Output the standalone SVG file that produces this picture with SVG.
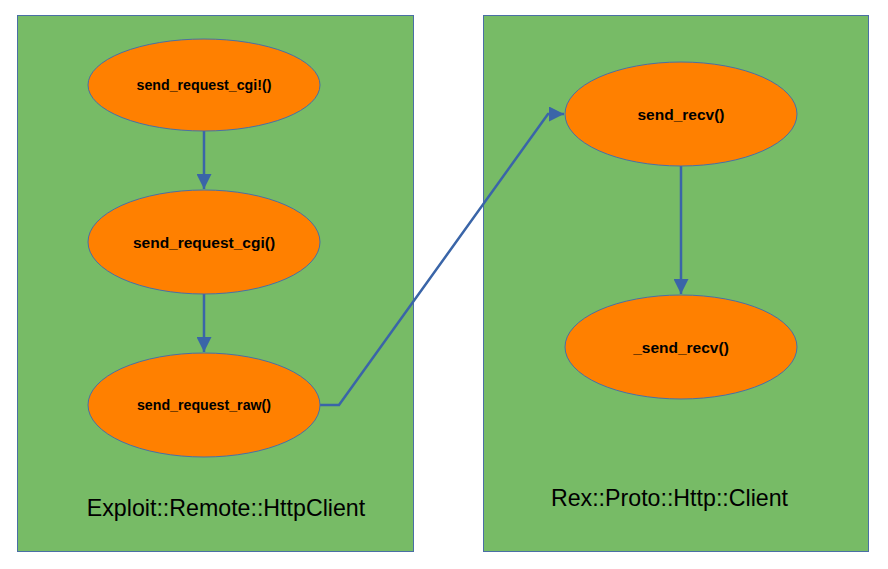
<svg xmlns="http://www.w3.org/2000/svg" width="888" height="569" viewBox="0 0 888 569">
<style>
.box{fill:#77bb66;stroke:#4a6fa5;stroke-width:1}
.node{fill:#ff8000;stroke:#4a6fa5;stroke-width:1}
.lbl{font-family:"Liberation Sans",Arial,sans-serif;font-weight:bold;fill:#000;text-anchor:middle;dominant-baseline:central}
.title{font-family:"Liberation Sans",Arial,sans-serif;font-size:23.2px;fill:#000;text-anchor:middle}
.edge{fill:none;stroke:#3a65a8;stroke-width:2.5}
</style>
<defs>
<marker id="arr" viewBox="0 0 10 10" refX="10" refY="5" markerWidth="6" markerHeight="6" markerUnits="strokeWidth" orient="auto">
<path d="M0,0 L10,5 L0,10 z" fill="#3a65a8"/>
</marker>
</defs>
<rect width="888" height="569" fill="#fff"/>
<g id="container-left">
<rect class="box" x="17.5" y="15.5" width="396" height="536"/>
<text class="title" x="226" y="516">Exploit::Remote::HttpClient</text>
</g>
<g id="container-right">
<rect class="box" x="483.5" y="15.5" width="385" height="536"/>
<text class="title" x="669.5" y="506">Rex::Proto::Http::Client</text>
</g>
<g id="connectors">
<path class="edge" d="M204,131 L204,189" marker-end="url(#arr)"/>
<path class="edge" d="M204,294 L204,352" marker-end="url(#arr)"/>
<path class="edge" d="M681,166 L681,294" marker-end="url(#arr)"/>
<path class="edge" d="M320,405 L339,405 L548,114 L564,114" marker-end="url(#arr)"/>
</g>
<g id="n1">
<ellipse class="node" cx="204" cy="85" rx="116" ry="46"/>
<text class="lbl" x="204" y="85" font-size="14.2">send_request_cgi!()</text>
</g>
<g id="n2">
<ellipse class="node" cx="204" cy="242" rx="116" ry="52"/>
<text class="lbl" x="204" y="242" font-size="15.5">send_request_cgi()</text>
</g>
<g id="n3">
<ellipse class="node" cx="204" cy="405" rx="116" ry="52"/>
<text class="lbl" x="204" y="405" font-size="14.2">send_request_raw()</text>
</g>
<g id="n4">
<ellipse class="node" cx="681" cy="114" rx="116" ry="52"/>
<text class="lbl" x="681" y="114" font-size="15.5">send_recv()</text>
</g>
<g id="n5">
<ellipse class="node" cx="681" cy="347" rx="116" ry="52"/>
<text class="lbl" x="681" y="347" font-size="15.5">_send_recv()</text>
</g>
</svg>
